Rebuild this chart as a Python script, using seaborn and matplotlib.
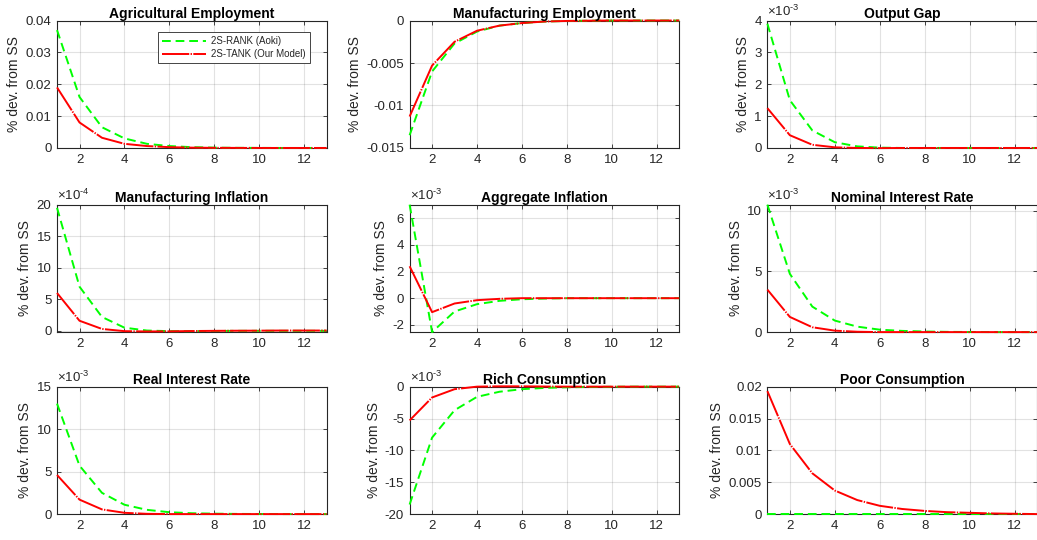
import numpy as np
import pandas as pd
import matplotlib
matplotlib.use("Agg")
import matplotlib.pyplot as plt
import seaborn as sns

# ---------------- data ----------------
periods = list(range(1, 14))
series_names = ["2S-RANK (Aoki)", "2S-TANK (Our Model)"]
titles = ["Agricultural Employment", "Manufacturing Employment", "Output Gap",
          "Manufacturing Inflation", "Aggregate Inflation", "Nominal Interest Rate",
          "Real Interest Rate", "Rich Consumption", "Poor Consumption"]

agri_rank = [0.037, 0.016, 0.0065, 0.003, 0.0013, 0.0006, 0.00025, 0.0001, 0.00004, 0.00002, 0.0, 0.0, 0.0]
agri_tank = [0.019, 0.008, 0.0032, 0.0013, 0.0006, 0.00025, 0.0001, 0.00004, 0.00002, 0.0, 0.0, 0.0, 0.0]

manu_rank = [-0.0135, -0.006, -0.0027, -0.0013, -0.0006, -0.0003, -0.00012, -0.00005, -0.00002, 0.0, 0.0, 0.0, 0.0]
manu_tank = [-0.0113, -0.0053, -0.0025, -0.0012, -0.0006, -0.0003, -0.00012, -0.00005, -0.00002, 0.0, 0.0, 0.0, 0.0]

gap_rank = [3.9e-3, 1.5e-3, 0.55e-3, 0.18e-3, 0.05e-3, 0.01e-3, 0.0, 0.0, 0.0, 0.0, 0.0, 0.0, 0.0]
gap_tank = [1.25e-3, 0.4e-3, 0.1e-3, 0.02e-3, 0.0, -0.005e-3, 0.0, 0.0, 0.0, 0.0, 0.0, 0.0, 0.0]

minf_rank = [19.5e-4, 7.0e-4, 2.2e-4, 0.5e-4, 0.05e-4, -0.05e-4, -0.05e-4, -0.02e-4, 0.0, 0.0, 0.0, 0.0, 0.0]
minf_tank = [6.0e-4, 1.6e-4, 0.3e-4, -0.05e-4, -0.1e-4, -0.08e-4, -0.03e-4, 0.0, 0.02e-4, 0.03e-4, 0.05e-4, 0.05e-4, 0.05e-4]

ainf_rank = [7.03e-3, -2.55e-3, -1.0e-3, -0.45e-3, -0.2e-3, -0.08e-3, -0.03e-3, 0.0, 0.0, 0.0, 0.0, 0.0, 0.0]
ainf_tank = [2.4e-3, -1.05e-3, -0.4e-3, -0.15e-3, -0.05e-3, 0.0, 0.0, 0.0, 0.0, 0.0, 0.0, 0.0, 0.0]

nom_rank = [10.5e-3, 4.8e-3, 2.1e-3, 0.95e-3, 0.45e-3, 0.2e-3, 0.1e-3, 0.05e-3, 0.02e-3, 0.01e-3, 0.0, 0.0, 0.0]
nom_tank = [3.5e-3, 1.25e-3, 0.4e-3, 0.12e-3, 0.03e-3, 0.0, 0.0, 0.0, 0.0, 0.0, 0.0, 0.0, 0.0]

real_rank = [13.0e-3, 5.7e-3, 2.5e-3, 1.1e-3, 0.5e-3, 0.22e-3, 0.1e-3, 0.05e-3, 0.02e-3, 0.01e-3, 0.0, 0.0, 0.0]
real_tank = [4.6e-3, 1.7e-3, 0.55e-3, 0.15e-3, 0.03e-3, 0.0, 0.0, 0.0, 0.0, 0.0, 0.0, 0.0, 0.0]

rich_rank = [-18.5e-3, -8.0e-3, -3.7e-3, -1.6e-3, -0.8e-3, -0.4e-3, -0.2e-3, -0.1e-3, -0.05e-3, -0.02e-3, 0.0, 0.0, 0.0]
rich_tank = [-5.3e-3, -1.7e-3, -0.4e-3, 0.0, 0.05e-3, 0.05e-3, 0.02e-3, 0.0, 0.0, 0.0, 0.0, 0.0, 0.0]

poor_rank = [0.0] * 13
poor_tank = [0.0193, 0.011, 0.0064, 0.0037, 0.0022, 0.0013, 0.0008, 0.0005, 0.0003, 0.0002, 0.0001, 0.00005, 0.0]

panel_data = [(agri_rank, agri_tank), (manu_rank, manu_tank), (gap_rank, gap_tank),
              (minf_rank, minf_tank), (ainf_rank, ainf_tank), (nom_rank, nom_tank),
              (real_rank, real_tank), (rich_rank, rich_tank), (poor_rank, poor_tank)]

ylims = [(0, 0.04), (-0.015, 0), (0, 4e-3),
         (-0.2e-4, 20e-4), (-2.55e-3, 7.03e-3), (0, 10.5e-3),
         (0, 15e-3), (-20e-3, 0), (0, 0.02)]
yticks = [[0, 0.01, 0.02, 0.03, 0.04], [-0.015, -0.01, -0.005, 0], [0, 1e-3, 2e-3, 3e-3, 4e-3],
          [0, 5e-4, 10e-4, 15e-4, 20e-4], [-2e-3, 0, 2e-3, 4e-3, 6e-3], [0, 5e-3, 10e-3],
          [0, 5e-3, 10e-3, 15e-3], [-20e-3, -15e-3, -10e-3, -5e-3, 0], [0, 0.005, 0.01, 0.015, 0.02]]
sci_exp = [None, None, -3, -4, -3, -3, -3, -3, None]

# ---------------- style ----------------
sns.set_style("ticks")
plt.rcParams['font.family'] = ['Liberation Sans', 'DejaVu Sans']
plt.rcParams['axes.unicode_minus'] = False
plt.rcParams['mathtext.fontset'] = 'custom'
plt.rcParams['mathtext.rm'] = 'Liberation Sans'
plt.rcParams['mathtext.it'] = 'Liberation Sans'

AX_COL = (0.15, 0.15, 0.15)
GREEN = (0.0, 1.0, 0.0)
RED = (1.0, 0.0, 0.0)

fig = plt.figure(figsize=(10.37, 5.40), dpi=100)

lefts = [0.055, 0.395, 0.740]
width = 0.260
bottoms = [0.726, 0.385, 0.048]
height = 0.236


def make_fmt(exp):
    if exp is None:
        return plt.FuncFormatter(lambda v, p: ('%g' % (0 if abs(v) < 1e-12 else v)))
    scale = 10.0 ** exp
    return plt.FuncFormatter(lambda v, p: ('%g' % round(v / scale, 6)) if abs(v) > 1e-15 else '0')


for i in range(9):
    r, c = divmod(i, 3)
    ax = fig.add_axes([lefts[c], bottoms[r], width, height])
    rank_vals, tank_vals = panel_data[i]
    sns.lineplot(x=periods, y=rank_vals, ax=ax, color=GREEN, linewidth=1.4,
                 linestyle=(0, (4.5, 2.5)), label=series_names[0] if i == 0 else None,
                 clip_on=False, zorder=3)
    sns.lineplot(x=periods, y=tank_vals, ax=ax, color=RED, linewidth=1.4,
                 linestyle=(0, (14, 0.7, 0.7, 0.7)), label=series_names[1] if i == 0 else None,
                 clip_on=False, zorder=3)
    ax.set_xlim(1, 13)
    ax.set_ylim(*ylims[i])
    ax.set_xticks([2, 4, 6, 8, 10, 12])
    ax.set_yticks(yticks[i])
    ax.yaxis.set_major_formatter(make_fmt(sci_exp[i]))
    if sci_exp[i] is not None:
        ax.text(0.0, 1.015, "\u00d710$^{\\mathregular{\u2010%d}}$" % abs(sci_exp[i]), transform=ax.transAxes,
                ha='left', va='bottom', fontsize=9.5, color=AX_COL)
    ax.grid(True, color=(0.15, 0.15, 0.15), alpha=0.13, linewidth=0.8)
    ax.set_axisbelow(True)
    for sp in ax.spines.values():
        sp.set_visible(True)
        sp.set_color(AX_COL)
        sp.set_linewidth(0.8)
    ax.tick_params(direction='in', length=3, width=0.6, top=True, right=True,
                   labelsize=9.5, colors=AX_COL, labelcolor=AX_COL, pad=4)
    ax.set_title(titles[i], fontsize=10, fontweight='bold', pad=2, color='black')
    ax.set_ylabel("% dev. from SS", fontsize=10, color=AX_COL, labelpad=3)
    ax.set_xlabel("")
    if i == 0:
        leg = ax.legend(loc='upper right', bbox_to_anchor=(0.956, 0.945), fontsize=7,
                        frameon=True, fancybox=False, framealpha=1, edgecolor=AX_COL,
                        handlelength=4.5, borderpad=0.4, labelspacing=0.3, handletextpad=0.6)
        leg.get_frame().set_linewidth(0.6)
        leg.set_zorder(5)
        for t in leg.get_texts():
            t.set_color(AX_COL)
    else:
        if ax.get_legend() is not None:
            ax.get_legend().remove()

fig.savefig("out.png", dpi=100, facecolor='white')
